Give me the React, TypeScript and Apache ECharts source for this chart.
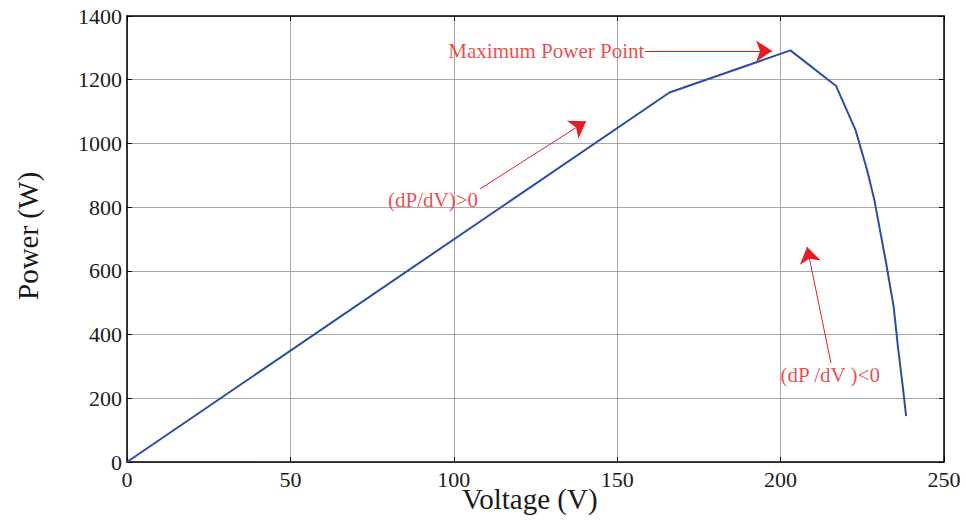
import React, { useEffect, useRef } from "react";
import * as echarts from "echarts";

const voltage = [0, 166, 203, 217, 223, 226.5, 228.7, 232.3, 234.6, 235.9, 237.4, 238.4];
const power = [0, 1160, 1292, 1180, 1040, 915, 822, 624, 487, 362, 236, 144];

const xTicks = { min: 0, max: 250, interval: 50 };
const yTicks = { min: 0, max: 1400, interval: 200 };

const arrows = [
  { from: [158.5, 1290], to: [197.4, 1290] },
  { from: [108.0, 857], to: [140.5, 1070] },
  { from: [215.4, 311], to: [208.1, 675] },
];

const notes = [
  { text: "Maximum Power Point", at: [158.3, 1290], pos: "left" },
  { text: "(dP/dV)>0", at: [107.4, 822], pos: "left" },
  { text: "(dP /dV )<0", at: [200.0, 273], pos: "right" },
];

const RED = "#e41c24";
const SERIF = "'Liberation Serif', 'Times New Roman', serif";

export default function App() {
  const ref = useRef<HTMLDivElement>(null);
  useEffect(() => {
    if (!ref.current) return;
    const chart = echarts.init(ref.current, null, { renderer: "svg" });
    const tickLabel = { fontFamily: SERIF, fontSize: 22, color: "#1a1a1a", formatter: (v: number) => String(v) };
    const grid = { left: 127, top: 16, width: 817, height: 446 };
    const axisLine = { show: true, onZero: false, lineStyle: { color: "#000", width: 1.5 } };
    const axisTick = { show: true, inside: true, length: 5, lineStyle: { color: "#000" } };
    chart.setOption({
      animation: false,
      backgroundColor: "#fff",
      grid,
      xAxis: [
        {
          type: "value", ...xTicks, position: "bottom", z: 2,
          axisLine, axisTick,
          axisLabel: { ...tickLabel, margin: 6 },
          splitLine: { show: true, lineStyle: { color: "#a8a8a8", width: 1 } },
        },
        {
          type: "value", ...xTicks, position: "top", z: 6,
          axisLine, axisTick,
          axisLabel: { show: false },
          splitLine: { show: false },
        },
      ],
      yAxis: [
        {
          type: "value", ...yTicks, position: "left", z: 2,
          axisLine, axisTick,
          axisLabel: { ...tickLabel, margin: 5 },
          splitLine: { show: true, lineStyle: { color: "#a8a8a8", width: 1 } },
        },
        {
          type: "value", ...yTicks, position: "right", z: 6,
          axisLine, axisTick,
          axisLabel: { show: false },
          splitLine: { show: false },
        },
      ],
      graphic: [
        {
          type: "text", left: 462, top: 484,
          style: { text: "Voltage (V)", font: `29px ${SERIF}`, fill: "#1a1a1a" },
        },
        {
          type: "text", x: 13, y: 300, rotation: Math.PI / 2,
          style: { text: "Power (W)", font: `29px ${SERIF}`, fill: "#1a1a1a" },
        },
      ],
      series: [
        {
          type: "line",
          data: voltage.map((v, i) => [v, power[i]]),
          showSymbol: false,
          lineStyle: { color: "#2a4ea0", width: 2 },
          z: 3,
        },
        {
          type: "lines",
          coordinateSystem: "cartesian2d",
          data: arrows.map((a) => ({ coords: [a.from, a.to] })),
          symbol: ["none", "arrow"],
          symbolSize: [10, 16],
          lineStyle: { color: RED, width: 1, opacity: 1 },
          z: 4,
        },
        {
          type: "scatter",
          data: notes.map((n) => ({
            value: n.at,
            label: {
              show: true, position: n.pos, distance: 0,
              formatter: n.text, fontFamily: SERIF, fontSize: 21, color: RED,
            },
          })),
          symbolSize: 0,
          silent: true,
          z: 5,
        },
      ],
    });
    return () => chart.dispose();
  }, []);
  return (
    <div
      ref={ref}
      style={{ position: "fixed", left: 0, top: 0, width: 966, height: 521 }}
    />
  );
}
